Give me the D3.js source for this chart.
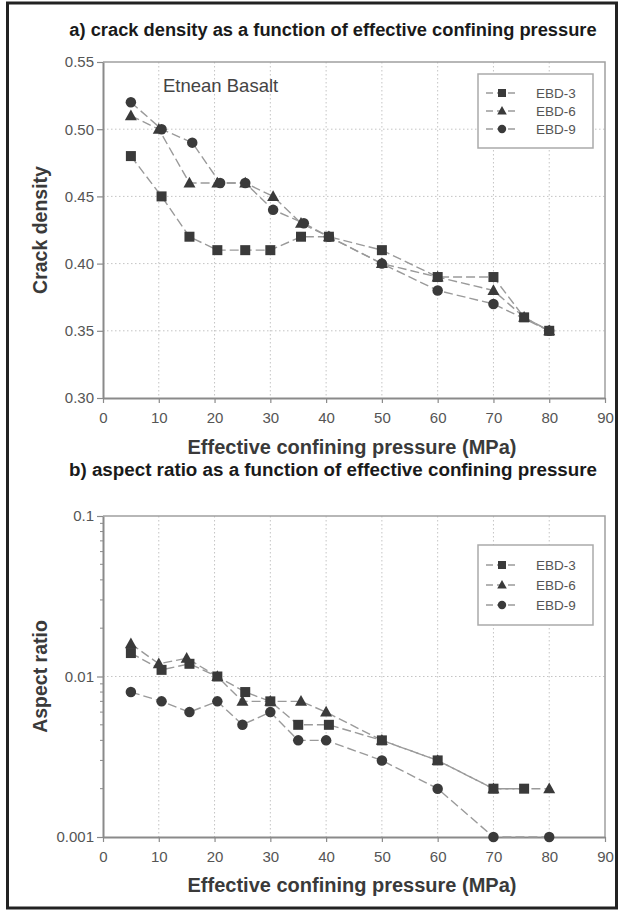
<!DOCTYPE html>
<html><head><meta charset="utf-8">
<script src="https://cdn.jsdelivr.net/npm/d3@7"></script>
<style>body{margin:0;background:#fff}svg{display:block}text{font-family:"Liberation Sans",Arial,sans-serif}</style>
</head><body>
<script>
const seriesNames = ["EBD-3","EBD-6","EBD-9"];
const markers = ["square","triangle","circle"];
// a) crack density
const crackX3 = [5,10.5,15.5,20.5,25.5,30,35.5,40.5,50,60,70,75.5,80];
const crackY3 = [0.48,0.45,0.42,0.41,0.41,0.41,0.42,0.42,0.41,0.39,0.39,0.36,0.35];
const crackX6 = [5,10,15.5,20.5,25.5,30.5,35.5,40.5,50,60,70,75.5,80];
const crackY6 = [0.51,0.50,0.46,0.46,0.46,0.45,0.43,0.42,0.40,0.39,0.38,0.36,0.35];
const crackX9 = [5,10.5,16,21,25.5,30.5,36,40.5,50,60,70,80];
const crackY9 = [0.52,0.50,0.49,0.46,0.46,0.44,0.43,0.42,0.40,0.38,0.37,0.35];
// b) aspect ratio
const aspX3 = [5,10.5,15.5,20.5,25.5,30,35,40.5,50,60,70,75.5];
const aspY3 = [0.014,0.011,0.012,0.010,0.008,0.007,0.005,0.005,0.004,0.003,0.002,0.002];
const aspX6 = [5,10,15,20.5,25,30,35.5,40,50,60,70,80];
const aspY6 = [0.016,0.012,0.013,0.010,0.007,0.007,0.007,0.006,0.004,0.003,0.002,0.002];
const aspX9 = [5,10.5,15.5,20.5,25,30,35,40,50,60,70,80];
const aspY9 = [0.008,0.007,0.006,0.007,0.005,0.006,0.004,0.004,0.003,0.002,0.001,0.001];
const xTicks = [0,10,20,30,40,50,60,70,80,90];
const crackTicks = [0.30,0.35,0.40,0.45,0.50,0.55];
const aspTicks = [0.001,0.01,0.1];

const W=619,H=913;
const svg=d3.select("body").append("svg").attr("width",W).attr("height",H);
svg.append("rect").attr("x",7.5).attr("y",3).attr("width",609).attr("height",905)
  .attr("fill","#fff").attr("stroke","#222").attr("stroke-width",3);

const axisCol="#8a8a8a", gridCol="#c4c4c4", markCol="#3a3a3a", lineCol="#9a9a9a", tickTxt="#555";

function drawMarker(g,type,x,y,s){
  if(type==="square") g.append("rect").attr("x",x-s).attr("y",y-s).attr("width",2*s).attr("height",2*s).attr("fill",markCol);
  else if(type==="triangle") g.append("path").attr("d",`M${x},${y-s*1.25}L${x+s*1.2},${y+s*0.9}L${x-s*1.2},${y+s*0.9}Z`).attr("fill",markCol);
  else g.append("circle").attr("cx",x).attr("cy",y).attr("r",s*1.05).attr("fill",markCol);
}

function panel(cfg){
  const {top,bottom,yScale,yTicks,yFmt,xsArr,ysArr,title,titleY,titleSize,yLabel,xLabelY,legendY,legendH,legendStep,showNote,logMinor}=cfg;
  const x=d3.scaleLinear().domain([0,90]).range([103,605]);
  const y=yScale.range([bottom,top]);
  const g=svg.append("g");
  // grid
  g.selectAll(".vg").data(xTicks.filter(t=>t>0&&t<90)).join("line")
    .attr("x1",d=>x(d)).attr("x2",d=>x(d)).attr("y1",top).attr("y2",bottom)
    .attr("stroke",gridCol).attr("stroke-dasharray","1.5,2.5").attr("stroke-width",1);
  g.selectAll(".hg").data(yTicks.slice(1,-1)).join("line")
    .attr("y1",d=>y(d)).attr("y2",d=>y(d)).attr("x1",103).attr("x2",605)
    .attr("stroke",gridCol).attr("stroke-dasharray","1.5,2.5").attr("stroke-width",1);
  // frame top/right
  g.append("path").attr("d",`M103,${top}H605V${bottom}`).attr("fill","none").attr("stroke","#a0a0a0").attr("stroke-width",1.5);
  // axes
  const xa=g.append("g").attr("transform",`translate(0,${bottom})`)
    .call(d3.axisBottom(x).tickValues(xTicks).tickSize(5).tickPadding(9).tickSizeOuter(0));
  const ya=g.append("g").attr("transform",`translate(103,0)`)
    .call(d3.axisLeft(y).tickValues(yTicks).tickFormat(yFmt).tickSize(6).tickPadding(3).tickSizeOuter(0));
  [xa,ya].forEach(a=>{
    a.select(".domain").attr("stroke",axisCol).attr("stroke-width",2);
    a.selectAll(".tick line").attr("stroke",axisCol).attr("stroke-width",1.2);
    a.selectAll(".tick text").attr("fill",tickTxt).style("font-size","15px").style("font-family","'Liberation Sans',Arial,sans-serif");
  });
  if(logMinor){
    const minors=[];
    for(const d of [0.001,0.01]) for(let k=2;k<=9;k++) minors.push(d*k);
    g.selectAll(".mt").data(minors).join("line").attr("x1",100).attr("x2",103)
      .attr("y1",d=>y(d)).attr("y2",d=>y(d)).attr("stroke",axisCol).attr("stroke-width",1);
  }
  // series
  const line=d3.line().x(d=>x(d[0])).y(d=>y(d[1]));
  xsArr.forEach((xs,i)=>{
    const pts=xs.map((v,j)=>[v,ysArr[i][j]]);
    g.append("path").attr("d",line(pts)).attr("fill","none").attr("stroke",lineCol)
      .attr("stroke-width",1.4).attr("stroke-dasharray","9,4");
  });
  xsArr.forEach((xs,i)=>{
    xs.forEach((v,j)=>drawMarker(g,markers[i],x(v),y(ysArr[i][j]),5));
  });
  // legend
  const lg=g.append("g");
  lg.append("rect").attr("x",478).attr("y",legendY).attr("width",115).attr("height",legendH)
    .attr("fill","#fff").attr("stroke","#aaa").attr("stroke-width",1.5);
  seriesNames.forEach((n,i)=>{
    const ly=legendY+legendH/2+(i-1)*legendStep;
    lg.append("line").attr("x1",486).attr("x2",518).attr("y1",ly).attr("y2",ly)
      .attr("stroke",lineCol).attr("stroke-width",1.3).attr("stroke-dasharray","7,4");
    drawMarker(lg,markers[i],502,ly,4);
    lg.append("text").attr("x",536).attr("y",ly+5).text(n).attr("fill","#555").style("font-size","13.5px");
  });
  if(showNote) g.append("text").attr("x",163).attr("y",92).text("Etnean Basalt").attr("fill","#444").style("font-size","18.5px");
  svg.append("text").attr("x",333).attr("y",titleY).attr("text-anchor","middle").text(title)
    .attr("fill","#1a1a1a").style("font-size",titleSize).style("font-weight","bold");
  svg.append("text").attr("transform",`translate(47,${(top+bottom)/2}) rotate(-90)`).attr("text-anchor","middle")
    .text(yLabel).attr("fill","#3a3a3a").style("font-size","19.5px").style("font-weight","bold");
  svg.append("text").attr("x",352).attr("y",xLabelY).attr("text-anchor","middle").text("Effective confining pressure (MPa)")
    .attr("fill","#3a3a3a").style("font-size","20px").style("font-weight","bold");
}

panel({top:62,bottom:398,yScale:d3.scaleLinear().domain([0.30,0.55]),yTicks:crackTicks,yFmt:d3.format(".2f"),
  xsArr:[crackX3,crackX6,crackX9],ysArr:[crackY3,crackY6,crackY9],
  title:"a) crack density as a function of effective confining pressure",titleY:36,titleSize:"18.3px",yLabel:"Crack density",
  xLabelY:454,legendY:74,legendH:74,legendStep:18,showNote:true,logMinor:false});
panel({top:516,bottom:837,yScale:d3.scaleLog().domain([0.001,0.1]),yTicks:aspTicks,yFmt:d=>String(d),
  xsArr:[aspX3,aspX6,aspX9],ysArr:[aspY3,aspY6,aspY9],
  title:"b) aspect ratio as a function of effective confining pressure",titleY:475.5,titleSize:"18.8px",yLabel:"Aspect ratio",
  xLabelY:892,legendY:545,legendH:80,legendStep:20,showNote:false,logMinor:true});
</script>
</body></html>
